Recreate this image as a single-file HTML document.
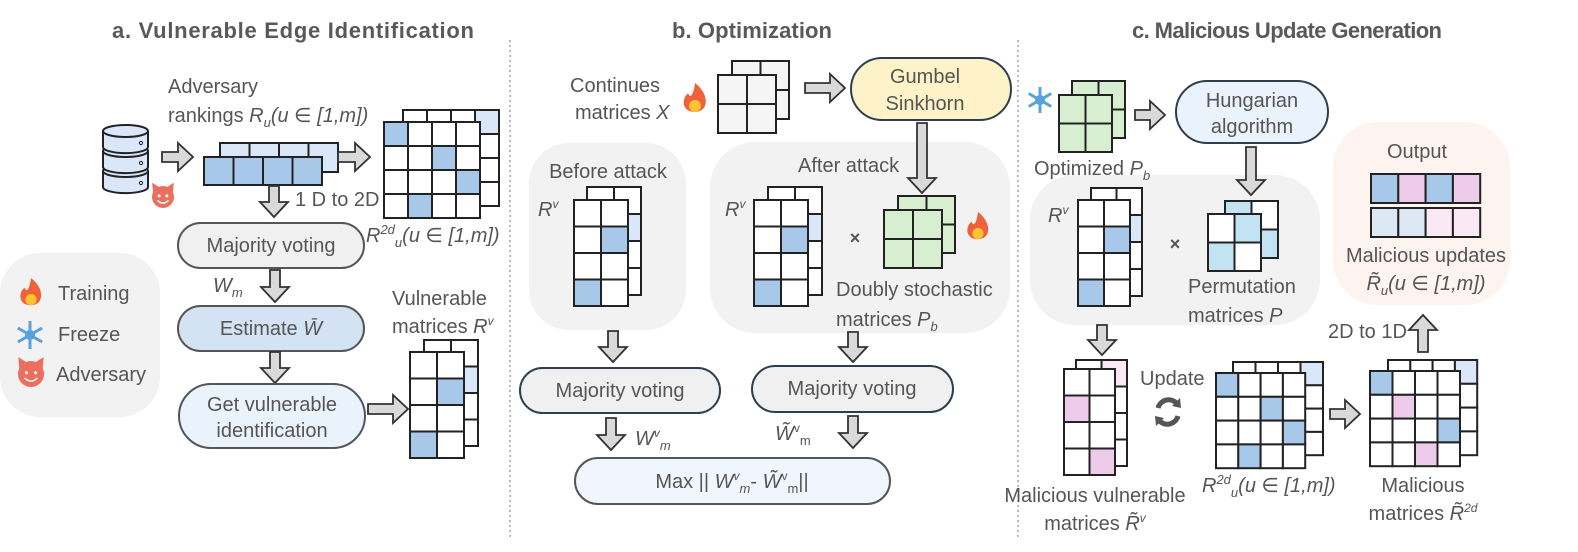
<!DOCTYPE html>
<html><head><meta charset="utf-8"><style>
html,body{margin:0;padding:0;background:#fff;}
svg{display:block;}
text{font-family:"Liberation Sans","DejaVu Sans",sans-serif;fill:#555;}
.t{font-size:20px;}
.i{font-style:italic;}
.h{font-size:22px;font-weight:bold;fill:#595959;}
</style></head><body>
<svg id="s" width="1578" height="552" viewBox="0 0 1578 552" xmlns="http://www.w3.org/2000/svg">
<line x1="510" y1="40" x2="510" y2="540" stroke="#bbb" stroke-width="2" stroke-dasharray="2,3"/>
<line x1="1018" y1="40" x2="1018" y2="540" stroke="#bbb" stroke-width="2" stroke-dasharray="2,3"/>
<text class="h" x="112" y="38" textLength="362">a. Vulnerable Edge Identification</text>
<text class="h" x="672" y="38" textLength="160">b. Optimization</text>
<text class="h" x="1132" y="38" textLength="310">c. Malicious Update Generation</text>

<rect x="0" y="253" width="160" height="164" rx="40" fill="#f2f2f2"/>
<rect x="529" y="143" width="157" height="187" rx="40" fill="#f2f2f2"/>
<rect x="710" y="142" width="300" height="191" rx="45" fill="#f2f2f2"/>
<rect x="1030" y="175" width="290" height="150" rx="45" fill="#f2f2f2"/>
<rect x="1333" y="122" width="177" height="183" rx="45" fill="#fdf3ef"/>

<g id="g"></g>

<text class="t" x="168" y="93">Adversary</text>
<text class="t" x="168" y="122">rankings <tspan class="i">R<tspan font-size="13" dy="5">u</tspan><tspan dy="-5">(u ∈ [1,m])</tspan></tspan></text>
<text class="t" x="295" y="206">1 D to 2D</text>
<text class="t i" x="366" y="242">R<tspan font-size="13" dy="-8">2d</tspan><tspan font-size="13" dy="13">u</tspan><tspan dy="-5">(u ∈ [1,m])</tspan></text>
<text class="t" x="271" y="252" text-anchor="middle">Majority voting</text>
<text class="t i" x="213" y="292">W<tspan font-size="13" dy="5">m</tspan></text>
<text class="t" x="271" y="335" text-anchor="middle">Estimate <tspan class="i">W̄</tspan></text>
<text class="t" x="272" y="411" text-anchor="middle">Get vulnerable</text>
<text class="t" x="272" y="437" text-anchor="middle">identification</text>
<text class="t" x="392" y="305">Vulnerable</text>
<text class="t" x="392" y="333">matrices <tspan class="i">R<tspan font-size="12" dy="-8">v</tspan></tspan></text>
<text class="t" x="58" y="300">Training</text>
<text class="t" x="58" y="341">Freeze</text>
<text class="t" x="56" y="381">Adversary</text>

<text class="t" x="570" y="92">Continues</text>
<text class="t" x="575" y="119">matrices <tspan class="i">X</tspan></text>
<text class="t" x="925" y="83" text-anchor="middle">Gumbel</text>
<text class="t" x="925" y="110" text-anchor="middle">Sinkhorn</text>
<text class="t" x="608" y="178" text-anchor="middle">Before attack</text>
<text class="t i" x="538" y="216">R<tspan font-size="12" dy="-8">v</tspan></text>
<text class="t" x="798" y="172">After attack</text>
<text class="t i" x="725" y="216">R<tspan font-size="12" dy="-8">v</tspan></text>
<text x="855" y="244" font-size="18" text-anchor="middle" font-weight="bold">×</text>
<text class="t" x="836" y="296">Doubly stochastic</text>
<text class="t" x="836" y="326">matrices <tspan class="i">P<tspan font-size="13" dy="5">b</tspan></tspan></text>
<text class="t" x="620" y="397" text-anchor="middle">Majority voting</text>
<text class="t" x="852" y="395" text-anchor="middle">Majority voting</text>
<text class="t i" x="635" y="445">W<tspan font-size="12" dy="-8">v</tspan><tspan font-size="13" dy="13">m</tspan></text>
<text class="t" x="775" y="440"><tspan class="i">W̃</tspan><tspan font-size="12" dy="-8">v</tspan><tspan font-size="13" dy="13">m</tspan></text>
<text class="t" x="732" y="488" text-anchor="middle">Max || <tspan class="i">W</tspan><tspan font-size="12" dy="-8" class="i">v</tspan><tspan font-size="13" dy="13" class="i">m</tspan><tspan dy="-5">- </tspan><tspan class="i">W̃</tspan><tspan font-size="12" dy="-8">v</tspan><tspan font-size="13" dy="13">m</tspan><tspan dy="-5">||</tspan></text>

<text class="t" x="1034" y="175">Optimized <tspan class="i">P<tspan font-size="13" dy="5">b</tspan></tspan></text>
<text class="t" x="1252" y="107" text-anchor="middle">Hungarian</text>
<text class="t" x="1252" y="133" text-anchor="middle">algorithm</text>
<text class="t i" x="1048" y="222">R<tspan font-size="12" dy="-8">v</tspan></text>
<text x="1175" y="250" font-size="18" text-anchor="middle" font-weight="bold">×</text>
<text class="t" x="1188" y="293">Permutation</text>
<text class="t" x="1188" y="322">matrices <tspan class="i">P</tspan></text>
<text class="t" x="1417" y="158" text-anchor="middle">Output</text>
<text class="t" x="1426" y="262" text-anchor="middle">Malicious updates</text>
<text class="t i" x="1426" y="290" text-anchor="middle">R̃<tspan font-size="13" dy="5">u</tspan><tspan dy="-5">(u ∈ [1,m])</tspan></text>
<text class="t" x="1328" y="338">2D to 1D</text>
<text class="t" x="1140" y="385">Update</text>
<text class="t" x="1095" y="502" text-anchor="middle">Malicious vulnerable</text>
<text class="t" x="1095" y="530" text-anchor="middle">matrices <tspan class="i">R̃<tspan font-size="12" dy="-8">v</tspan></tspan></text>
<text class="t i" x="1202" y="492">R<tspan font-size="13" dy="-8">2d</tspan><tspan font-size="13" dy="13">u</tspan><tspan dy="-5">(u ∈ [1,m])</tspan></text>
<text class="t" x="1423" y="492" text-anchor="middle">Malicious</text>
<text class="t" x="1423" y="520" text-anchor="middle">matrices <tspan class="i">R̃<tspan font-size="12" dy="-8">2d</tspan></tspan></text>
</svg>
<script>
var g=document.getElementById('g'),h='';
var B='#a8c8ea',LB='#d9e7f8',P='#eecbea',LP='#fae8f5',G='#d7efd0',C='#c2e4f2';
function mat(x,y,c,r,w,hh,f,def){def=def||'#fff';for(var i=0;i<r;i++)for(var j=0;j<c;j++){var k=i+','+j;h+='<rect x="'+(x+j*w)+'" y="'+(y+i*hh)+'" width="'+w+'" height="'+hh+'" fill="'+((f&&f[k])||def)+'" stroke="#222" stroke-width="2"/>';}}
function pill(x,y,w,hh,fill,st){h+='<rect x="'+x+'" y="'+y+'" width="'+w+'" height="'+hh+'" rx="'+(hh/2)+'" fill="'+fill+'" stroke="'+st+'" stroke-width="2"/>';}
function ar(x1,y1,x2,y2){var dx=x2-x1,dy=y2-y1,L=Math.sqrt(dx*dx+dy*dy),ux=dx/L,uy=dy/L,px=-uy,py=ux,s=5,hw=14,hl=Math.min(15,L*0.5);
var pts=[[0,s],[L-hl,s],[L-hl,hw],[L,0],[L-hl,-hw],[L-hl,-s],[0,-s]].map(function(p){return (x1+ux*p[0]+px*p[1]).toFixed(1)+','+(y1+uy*p[0]+py*p[1]).toFixed(1)}).join(' ');
h+='<polygon points="'+pts+'" fill="#d9d9d9" stroke="#333" stroke-width="1.8" stroke-linejoin="miter"/>';}
for(var i=2;i>=0;i--){var yy=125+i*20;h+='<path d="M103 '+(yy+6)+' v16 a22 6 0 0 0 45 0 v-16" fill="#d9e7f8" stroke="#222" stroke-width="2"/><ellipse cx="125.5" cy="'+(yy+6)+'" rx="22.5" ry="6" fill="#d9e7f8" stroke="#222" stroke-width="2"/><circle cx="141" cy="'+(yy+18)+'" r="1.6" fill="none" stroke="#222"/>';}
function devil(x,y,r){h+='<circle cx="'+x+'" cy="'+y+'" r="'+r+'" fill="#ec6f5e"/><path d="M'+(x-r*0.9)+' '+(y-r*0.4)+' l-1 -'+r*0.9+' l'+r*0.8+' '+r*0.5+'z M'+(x+r*0.9)+' '+(y-r*0.4)+' l1 -'+r*0.9+' l-'+r*0.8+' '+r*0.5+'z" fill="#ec6f5e"/><path d="M'+(x-r*0.5)+' '+(y+r*0.3)+' q'+r*0.5+' '+r*0.5+' '+r+' 0" stroke="#fff" stroke-width="1.5" fill="none"/><circle cx="'+(x-r*0.35)+'" cy="'+(y-r*0.1)+'" r="1.5" fill="#fff"/><circle cx="'+(x+r*0.35)+'" cy="'+(y-r*0.1)+'" r="1.5" fill="#fff"/>';}
function fire(x,y,s){h+='<path d="M'+x+' '+(y-s)+' C'+(x+s*0.9)+' '+(y-s*0.3)+' '+(x+s*0.8)+' '+(y+s*0.7)+' '+x+' '+(y+s*0.7)+' C'+(x-s*0.8)+' '+(y+s*0.7)+' '+(x-s*0.8)+' '+(y-s*0.1)+' '+(x-s*0.4)+' '+(y-s*0.4)+' C'+(x-s*0.3)+' '+(y-s*0.1)+' '+(x-s*0.1)+' '+(y-s*0.2)+' '+x+' '+(y-s)+'z" fill="#f0603a"/><ellipse cx="'+x+'" cy="'+(y+s*0.35)+'" rx="'+s*0.35+'" ry="'+s*0.35+'" fill="#fbc531"/>';}
function snow(x,y,r){for(var a=0;a<3;a++){var t=Math.PI/2+a*Math.PI/3,c=Math.cos(t),sn=Math.sin(t);h+='<line x1="'+(x-r*c)+'" y1="'+(y-r*sn)+'" x2="'+(x+r*c)+'" y2="'+(y+r*sn)+'" stroke="#5aa0dc" stroke-width="3"/>';}h+='<circle cx="'+x+'" cy="'+y+'" r="4" fill="none" stroke="#5aa0dc" stroke-width="2"/>';}
devil(163,197,11);
ar(162,157,193,157);
mat(220,143,4,1,29.5,29,null,LB);mat(204,157,4,1,29.5,28,null,B);
ar(338,157,370,157);
mat(403,110,4,4,24,24,{'0,3':LB});mat(384,122,4,4,24,24,{'0,0':B,'1,2':B,'2,3':B,'3,1':B});
ar(274,186,274,217);
pill(178,223,186,45,'#f0f0f0','#555');
ar(275,270,275,302);
pill(178,306,186,45,'#d3e3f4','#555');
ar(275,352,275,383);
pill(179,384,186,64,'#eaf2fb','#555');
ar(368,409,408,409);
mat(424,340,2,4,27,26.5,{'1,1':LB});mat(410,352,2,4,27,26.5,{'1,1':B,'3,0':B});
fire(31,294,16);snow(30,335,14);devil(31,374,13);
fire(695,100,17);
mat(732,61,2,2,28.5,29,null,'#f5f5f5');mat(718,75,2,2,29,29,null,'#f5f5f5');
ar(805,88,845,88);
pill(851,58,160,62,'#fdf2c8','#2d3e4e');
ar(922,123,922,193);
mat(587,187,2,4,27,27,{'1,1':LB});mat(574,200,2,4,27,26.5,{'1,1':B,'3,0':B});
mat(768,187,2,4,27,27,{'1,1':LB});mat(754,200,2,4,27,26.5,{'1,1':B,'3,0':B});
mat(898,196,2,2,28.5,28.5,null,G);mat(884,210,2,2,29,29,null,G);
fire(978,228,16);
ar(613,331,613,362);ar(853,332,853,362);
pill(520,368,200,45,'#f0f0f0','#2d3e4e');pill(752,366,201,46,'#f0f0f0','#2d3e4e');
ar(611,418,611,450);ar(853,416,853,448);
pill(575,458,315,46,'#f0f6fd','#555');
snow(1040,100,13);
mat(1072,81,2,2,26.5,28.5,null,G);mat(1059,95,2,2,26.5,28.5,null,G);
ar(1135,115,1165,115);
pill(1176,81,152,62,'#eaf2fb','#2d3e4e');
ar(1251,147,1251,195);
mat(1091,188,2,4,25.5,27,{'1,1':LB});mat(1078,200,2,4,26,26.5,{'1,1':B,'3,0':B});
mat(1225,201,2,2,26.5,28.5,{'0,0':C,'1,1':C});mat(1208,214,2,2,26.5,28.5,{'0,1':C,'1,0':C});
mat(1371,174,4,1,27.3,29,{'0,0':B,'0,1':P,'0,2':B,'0,3':P});
mat(1371,208,4,1,27.3,29,{'0,0':'#dce9f5','0,1':'#dce9f5','0,2':LP,'0,3':LP});
ar(1423,352,1423,315);
ar(1102,325,1102,355);
mat(1076,360,2,4,25.5,26.5,{'0,1':LP});mat(1064,369,2,4,25.5,26.5,{'1,0':P,'3,1':P});
h+='<path d="M1158 408 a11 11 0 0 1 20 -3" stroke="#555" stroke-width="5" fill="none"/><path d="M1180 398 l1 10 l-9 -2z" fill="#555"/><path d="M1178 416 a11 11 0 0 1 -20 3" stroke="#555" stroke-width="5" fill="none"/><path d="M1156 426 l-1 -10 l9 2z" fill="#555"/>';
mat(1233,362,4,4,22.5,23.3,{'0,3':LB});mat(1216,373,4,4,22.3,23.8,{'0,0':B,'1,2':B,'2,3':B,'3,1':B});
ar(1330,414,1360,414);
mat(1388,360,4,4,22.3,23.8,{'0,3':LB});mat(1370,371,4,4,22.5,23.8,{'0,0':B,'1,1':P,'2,3':B,'3,2':P});
g.innerHTML=h;
</script>
</body></html>
